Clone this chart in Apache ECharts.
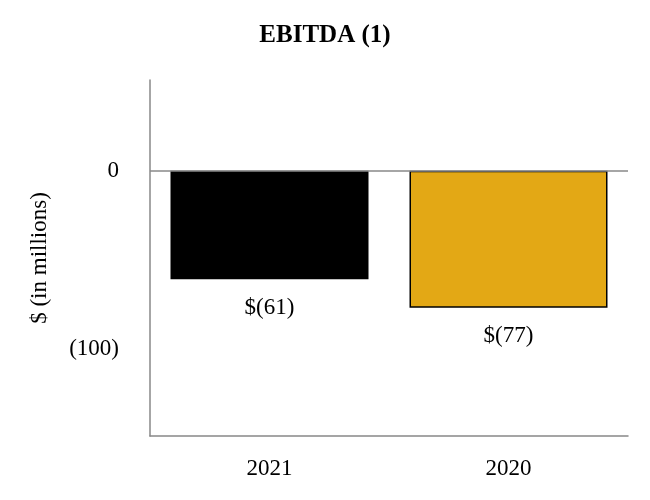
<!DOCTYPE html>
<html><head><meta charset="utf-8">
<script src="https://cdn.jsdelivr.net/npm/echarts@6/dist/echarts.min.js"></script>
<style>html,body{margin:0;padding:0;background:#fff}#c{width:650px;height:500px}</style>
</head><body><div id="c"></div>
<script>
const categories = ['2021', '2020'];
const values = [-61, -77];
const barColors = ['#000000', '#E3A815'];
const valueLabels = ['$(61)', '$(77)'];
const yTickLabels = {'0': '0', '-100': '(100)'};

const F = '"Liberation Serif", "Times New Roman", serif';
const chart = echarts.init(document.getElementById('c'), null, {renderer: 'canvas'});
chart.setOption({
  animation: false,
  backgroundColor: '#ffffff',
  title: {text: 'EBITDA (1)', left: 'center', top: 18,
    textStyle: {fontFamily: F, fontWeight: 'bold', fontSize: 25, color: '#000'}},
  grid: {left: 150, right: 22, top: 80, bottom: 64},
  xAxis: {type: 'category', data: categories,
    axisLine: {onZero: false, lineStyle: {color: '#888', width: 1.5}},
    axisTick: {show: false},
    axisLabel: {fontFamily: F, fontSize: 23, color: '#000', margin: 21}},
  yAxis: {type: 'value', min: -149, max: 51, interval: 1,
    name: '$ (in millions)', nameLocation: 'middle', nameGap: 99,
    nameTextStyle: {fontFamily: F, fontSize: 23, color: '#000'},
    axisLine: {show: true, lineStyle: {color: '#888', width: 1.5}},
    axisTick: {show: false}, splitLine: {show: false},
    axisLabel: {fontFamily: F, fontSize: 23, color: '#000', margin: 31,
      padding: [3, 0, 0, 0],
      formatter: v => yTickLabels[String(v)] || ''}},
  series: [{
    type: 'bar', barWidth: 198,
    data: values.map((v, i) => ({value: v,
      itemStyle: {color: barColors[i], borderColor: '#000', borderWidth: i === 1 ? 1.5 : 0},
      label: {formatter: valueLabels[i]}})),
    label: {show: true, position: 'bottom', distance: 17,
      fontFamily: F, fontSize: 23, color: '#000'},
    markLine: {silent: true, symbol: 'none', label: {show: false},
      lineStyle: {color: '#888', width: 1.5, type: 'solid'},
      data: [{yAxis: 0}]},
    z: 3
  }]
});
</script></body></html>
